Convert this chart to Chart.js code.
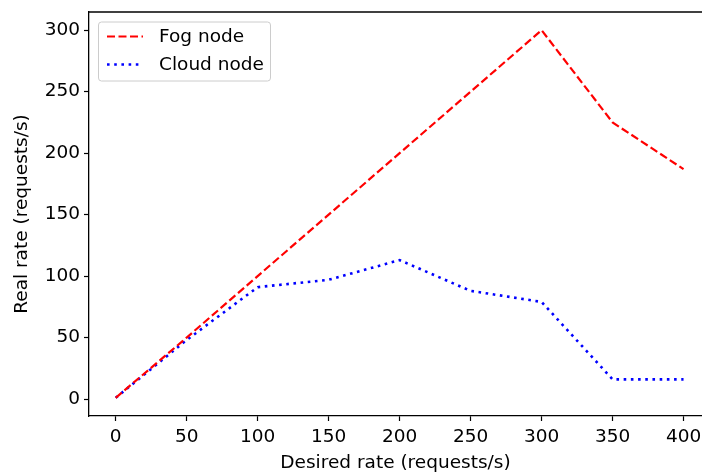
<!DOCTYPE html>
<html>
<head>
<meta charset="utf-8">
<script src="https://cdn.jsdelivr.net/npm/chart.js@4.4.1/dist/chart.umd.min.js"></script>
<style>
  html, body { margin: 0; padding: 0; background: #fff; }
  #wrap { width: 702px; height: 474px; }
</style>
</head>
<body>
<div id="wrap"><canvas id="rateChart" width="702" height="474"></canvas></div>
<script>
const desiredRate = [0, 50, 100, 150, 200, 250, 300, 350, 400];
const fogRate = [1, 50, 100, 150, 200, 250, 300, 225, 187];
const cloudRate = [1, 48, 91, 97, 113, 88, 79, 16, 16];
const xTicks = [0, 50, 100, 150, 200, 250, 300, 350, 400];
const yTicks = [0, 50, 100, 150, 200, 250, 300];

const FONT = "DejaVu Sans";
const FS = 18.5;
Chart.defaults.font.family = FONT;

// matplotlib-like frame top line + legend box in the upper left
const framePlugin = {
  id: "frame",
  afterDraw(chart) {
    const { ctx, chartArea } = chart;
    ctx.save();
    ctx.strokeStyle = "#000";
    ctx.lineWidth = 1.3;
    ctx.beginPath();
    ctx.moveTo(chartArea.left, chartArea.top);
    ctx.lineTo(chartArea.right, chartArea.top);
    ctx.stroke();

    // legend
    const x0 = chartArea.left + 9, y0 = chartArea.top + 9.5;
    const w = 172, h = 59, r = 3;
    ctx.fillStyle = "rgba(255,255,255,0.8)";
    ctx.strokeStyle = "#cccccc";
    ctx.lineWidth = 1;
    ctx.beginPath();
    ctx.roundRect(x0 + 0.5, y0 + 0.5, w, h, r);
    ctx.fill();
    ctx.stroke();

    ctx.font = FS + "px " + FONT;
    ctx.textBaseline = "middle";
    chart.data.datasets.forEach((ds, i) => {
      const yy = y0 + 15 + i * 28;
      ctx.strokeStyle = ds.borderColor;
      ctx.lineWidth = ds.borderWidth;
      ctx.setLineDash(ds.borderDash);
      ctx.beginPath();
      ctx.moveTo(x0 + 9, yy);
      ctx.lineTo(x0 + 45, yy);
      ctx.stroke();
      ctx.setLineDash([]);
      ctx.fillStyle = "#000";
      ctx.fillText(ds.label, x0 + 61, yy + 1);
    });
    ctx.restore();
  },
};

const toPoints = (ys) => desiredRate.map((x, i) => ({ x: x, y: ys[i] }));

const config = {
  type: "line",
  data: {
    datasets: [
      {
        label: "Fog node",
        data: toPoints(fogRate),
        borderColor: "#ff0000",
        borderWidth: 2.2,
        borderDash: [8, 3.5],
        borderCapStyle: "butt",
        tension: 0,
        pointRadius: 0,
        fill: false,
      },
      {
        label: "Cloud node",
        data: toPoints(cloudRate),
        borderColor: "#0000ff",
        borderWidth: 2.6,
        borderDash: [2.6, 4.6],
        borderCapStyle: "butt",
        tension: 0,
        pointRadius: 0,
        fill: false,
      },
    ],
  },
  options: {
    responsive: false,
    animation: false,
    layout: { padding: { left: 0, top: 12, right: 0, bottom: 0 } },
    plugins: {
      legend: { display: false },
      tooltip: { enabled: false },
    },
    scales: {
      x: {
        type: "linear",
        min: -18.8,
        max: 413,
        afterBuildTicks: (scale) => {
          scale.ticks = xTicks.map((v) => ({ value: v }));
        },
        afterFit: (scale) => {
          scale.height = 58;
          scale.paddingLeft = 0;
          scale.paddingRight = 0;
        },
        grid: {
          drawOnChartArea: false,
          drawTicks: true,
          tickLength: 5,
          tickWidth: 1.2,
          tickColor: "#000",
        },
        border: { color: "#000", width: 1.3 },
        ticks: {
          color: "#000",
          font: { family: FONT, size: FS },
          padding: 5,
          maxRotation: 0,
        },
        title: {
          display: true,
          text: "Desired rate (requests/s)",
          color: "#000",
          font: { family: FONT, size: FS },
          padding: { top: 0, bottom: 0 },
        },
      },
      y: {
        min: -13.8,
        max: 314.8,
        afterBuildTicks: (scale) => {
          scale.ticks = yTicks.map((v) => ({ value: v }));
        },
        afterFit: (scale) => {
          scale.width = 89;
          scale.paddingTop = 0;
          scale.paddingBottom = 0;
        },
        grid: {
          drawOnChartArea: false,
          drawTicks: true,
          tickLength: 5,
          tickWidth: 1.2,
          tickColor: "#000",
        },
        border: { color: "#000", width: 1.3 },
        ticks: {
          color: "#000",
          font: { family: FONT, size: FS },
          padding: 4,
        },
        title: {
          display: true,
          text: "Real rate (requests/s)",
          color: "#000",
          font: { family: FONT, size: FS },
          padding: { top: 11, bottom: 0 },
        },
      },
    },
  },
  plugins: [framePlugin],
};

new Chart(document.getElementById("rateChart").getContext("2d"), config);
</script>
</body>
</html>
